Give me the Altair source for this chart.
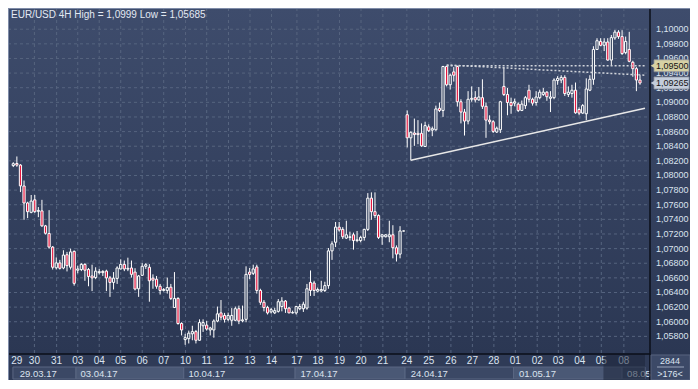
import altair as alt
import pandas as pd

# ---------------- data (EUR/USD 4H candles) ----------------
opens = [
    1.08135, 1.08164, 1.08142, 1.07856, 1.07624, 1.07496, 1.07667, 1.07509, 1.07516, 1.07311,
    1.07206, 1.07021, 1.06738, 1.06804, 1.06735, 1.06916, 1.06745, 1.06962, 1.06705, 1.06714,
    1.06784, 1.06714, 1.06626, 1.06604, 1.06672, 1.06672, 1.06692, 1.06600, 1.06538, 1.06593,
    1.06722, 1.06784, 1.06720, 1.06735, 1.06679, 1.06451, 1.06635, 1.06758, 1.06745, 1.06596,
    1.06582, 1.06485, 1.06428, 1.06428, 1.06472, 1.06195, 1.06319, 1.05976, 1.05756, 1.05769,
    1.05835, 1.05865, 1.05747, 1.05945, 1.05954, 1.05888, 1.05888, 1.06010, 1.06121, 1.06086,
    1.06033, 1.06020, 1.06020, 1.06178, 1.06013, 1.06033, 1.06679, 1.06662, 1.06749, 1.06428,
    1.06266, 1.06195, 1.06134, 1.06121, 1.06142, 1.06208, 1.06283, 1.06187, 1.06121, 1.06121,
    1.06178, 1.06178, 1.06187, 1.06538, 1.06530, 1.06419, 1.06422, 1.06428, 1.06494, 1.06969,
    1.07087, 1.07294, 1.07263, 1.07144, 1.07153, 1.07189, 1.07110, 1.07110, 1.07153, 1.07263,
    1.07690, 1.07505, 1.07452, 1.07162, 1.07162, 1.07162, 1.07189, 1.07012, 1.06925, 1.07241,
    1.08831, 1.08515, 1.08581, 1.08577, 1.08577, 1.08396, 1.08665, 1.08620, 1.08625, 1.08919,
    1.08889, 1.09490, 1.09240, 1.09416, 1.09490, 1.09008, 1.08867, 1.08744, 1.09042, 1.09064,
    1.09034, 1.09064, 1.08946, 1.08757, 1.08735, 1.08594, 1.08625, 1.09218, 1.09108, 1.08998,
    1.08989, 1.08976, 1.08889, 1.08955, 1.09166, 1.09042, 1.08998, 1.09064, 1.09108, 1.09139,
    1.09055, 1.09064, 1.09298, 1.09305, 1.09341, 1.09108, 1.09121, 1.09166, 1.08902, 1.08853,
    1.08844, 1.09166, 1.09315, 1.09723, 1.09833, 1.09780, 1.09825, 1.09578, 1.09881, 1.09960,
    1.09899, 1.09680, 1.09723, 1.09548, 1.09460, 1.09305,
]
highs = [
    1.08181, 1.08260, 1.08155, 1.07931, 1.07641, 1.07733, 1.07733, 1.07568, 1.07667, 1.07324,
    1.07526, 1.07035, 1.06880, 1.06846, 1.06978, 1.06955, 1.06999, 1.06975, 1.06767, 1.06801,
    1.06801, 1.06735, 1.06780, 1.06745, 1.06722, 1.06705, 1.06712, 1.06626, 1.06679, 1.06758,
    1.06854, 1.06837, 1.06876, 1.06837, 1.06732, 1.06639, 1.06801, 1.06801, 1.06788, 1.06648,
    1.06626, 1.06517, 1.06461, 1.06604, 1.06517, 1.06679, 1.06336, 1.05993, 1.05835, 1.05879,
    1.05945, 1.05888, 1.06033, 1.06033, 1.06010, 1.05931, 1.06033, 1.06208, 1.06297, 1.06121,
    1.06125, 1.06187, 1.06208, 1.06221, 1.06221, 1.06758, 1.06735, 1.06780, 1.06780, 1.06451,
    1.06297, 1.06218, 1.06191, 1.06191, 1.06310, 1.06336, 1.06297, 1.06204, 1.06152, 1.06218,
    1.06244, 1.06274, 1.06517, 1.06701, 1.06560, 1.06468, 1.06560, 1.06547, 1.07008, 1.07100,
    1.07364, 1.07364, 1.07294, 1.07381, 1.07232, 1.07219, 1.07241, 1.07176, 1.07272, 1.07759,
    1.07769, 1.07769, 1.07469, 1.07197, 1.07197, 1.07381, 1.07320, 1.07044, 1.07307, 1.07245,
    1.08889, 1.08603, 1.08778, 1.08757, 1.08712, 1.08735, 1.08699, 1.08669, 1.08955, 1.08998,
    1.09499, 1.09499, 1.09394, 1.09482, 1.09503, 1.09042, 1.08910, 1.09153, 1.09218, 1.09153,
    1.09209, 1.09315, 1.08998, 1.08823, 1.08757, 1.08669, 1.09021, 1.09482, 1.09196, 1.09064,
    1.09051, 1.08998, 1.09025, 1.09087, 1.09240, 1.09064, 1.09153, 1.09174, 1.09196, 1.09153,
    1.09153, 1.09328, 1.09358, 1.09371, 1.09371, 1.09218, 1.09240, 1.09271, 1.08932, 1.08976,
    1.09328, 1.09371, 1.09767, 1.09877, 1.09877, 1.09877, 1.09877, 1.09921, 1.09990, 1.09987,
    1.09987, 1.09899, 1.09964, 1.09569, 1.09482, 1.09371,
]
lows = [
    1.08115, 1.08119, 1.07773, 1.07394, 1.07417, 1.07483, 1.07489, 1.07430, 1.07298, 1.07193,
    1.06999, 1.06714, 1.06714, 1.06714, 1.06718, 1.06688, 1.06714, 1.06494, 1.06662, 1.06692,
    1.06560, 1.06485, 1.06419, 1.06582, 1.06648, 1.06626, 1.06419, 1.06340, 1.06441, 1.06517,
    1.06714, 1.06692, 1.06692, 1.06604, 1.06428, 1.06340, 1.06626, 1.06722, 1.06274, 1.06451,
    1.06451, 1.06372, 1.06415, 1.06385, 1.06297, 1.06187, 1.05960, 1.05813, 1.05685, 1.05703,
    1.05747, 1.05703, 1.05743, 1.05861, 1.05879, 1.05813, 1.05782, 1.05993, 1.06020, 1.05989,
    1.06007, 1.05945, 1.06007, 1.05967, 1.05993, 1.05993, 1.06582, 1.06639, 1.06385, 1.06231,
    1.06142, 1.06099, 1.06112, 1.06105, 1.06125, 1.06142, 1.06121, 1.06118, 1.06112, 1.06099,
    1.06158, 1.06134, 1.06165, 1.06353, 1.06353, 1.06402, 1.06406, 1.06406, 1.06451, 1.06846,
    1.07021, 1.07232, 1.07131, 1.07131, 1.07110, 1.06986, 1.07087, 1.07087, 1.07110, 1.07241,
    1.07394, 1.07417, 1.07131, 1.07052, 1.07153, 1.07087, 1.06867, 1.06824, 1.06867, 1.07237,
    1.08383, 1.08208, 1.08405, 1.08428, 1.08392, 1.08392, 1.08594, 1.08537, 1.08612, 1.08867,
    1.08801, 1.09218, 1.09174, 1.09284, 1.08942, 1.08712, 1.08546, 1.08699, 1.09008, 1.08998,
    1.09021, 1.08910, 1.08515, 1.08699, 1.08581, 1.08581, 1.08581, 1.09087, 1.08823, 1.08844,
    1.08946, 1.08867, 1.08880, 1.08910, 1.08998, 1.08955, 1.08955, 1.09042, 1.09087, 1.09021,
    1.08867, 1.09042, 1.09240, 1.09262, 1.09087, 1.09073, 1.09064, 1.08844, 1.08823, 1.08844,
    1.08757, 1.09153, 1.09240, 1.09717, 1.09767, 1.09701, 1.09569, 1.09503, 1.09855, 1.09868,
    1.09648, 1.09657, 1.09548, 1.09350, 1.09153, 1.09240,
]
closes = [
    1.08161, 1.08142, 1.07858, 1.07624, 1.07505, 1.07650, 1.07505, 1.07522, 1.07311, 1.07210,
    1.07021, 1.06745, 1.06804, 1.06731, 1.06912, 1.06767, 1.06955, 1.06525, 1.06722, 1.06784,
    1.06705, 1.06619, 1.06600, 1.06692, 1.06685, 1.06688, 1.06600, 1.06538, 1.06596, 1.06735,
    1.06784, 1.06722, 1.06730, 1.06648, 1.06448, 1.06626, 1.06758, 1.06780, 1.06560, 1.06569,
    1.06485, 1.06428, 1.06441, 1.06468, 1.06319, 1.06319, 1.05976, 1.05888, 1.05783, 1.05844,
    1.05865, 1.05747, 1.05989, 1.05989, 1.05901, 1.05914, 1.06010, 1.06108, 1.06063, 1.06033,
    1.06086, 1.06086, 1.06178, 1.06010, 1.06026, 1.06648, 1.06648, 1.06722, 1.06428, 1.06266,
    1.06195, 1.06121, 1.06165, 1.06152, 1.06274, 1.06283, 1.06178, 1.06121, 1.06125, 1.06208,
    1.06208, 1.06240, 1.06451, 1.06428, 1.06428, 1.06441, 1.06441, 1.06494, 1.06969, 1.07065,
    1.07294, 1.07255, 1.07162, 1.07189, 1.07162, 1.07110, 1.07120, 1.07153, 1.07263, 1.07690,
    1.07505, 1.07452, 1.07153, 1.07189, 1.07189, 1.07189, 1.07012, 1.06925, 1.07241, 1.07241,
    1.08515, 1.08590, 1.08559, 1.08559, 1.08405, 1.08682, 1.08612, 1.08639, 1.08910, 1.08889,
    1.09490, 1.09240, 1.09371, 1.09371, 1.09008, 1.08867, 1.08744, 1.09042, 1.09055, 1.09034,
    1.09073, 1.08946, 1.08757, 1.08735, 1.08603, 1.08646, 1.09008, 1.09108, 1.08998, 1.08955,
    1.09008, 1.08889, 1.08976, 1.09064, 1.09042, 1.08989, 1.09073, 1.09139, 1.09139, 1.09077,
    1.09073, 1.09305, 1.09328, 1.09341, 1.09121, 1.09139, 1.09166, 1.08857, 1.08853, 1.08955,
    1.09183, 1.09315, 1.09723, 1.09842, 1.09780, 1.09825, 1.09578, 1.09885, 1.09960, 1.09899,
    1.09667, 1.09833, 1.09561, 1.09460, 1.09305, 1.09265,
]

day_labels = ["29", "30", "31", "03", "04", "05", "06", "07", "10", "11", "12", "13", "14",
              "17", "18", "19", "20", "21", "24", "25", "26", "27", "28", "01", "02", "03",
              "04", "05", "08"]
day_pos = [1.0, 5.9, 12.1, 18.0, 24.0, 30.0, 36.0, 42.0, 48.1, 54.0, 60.1, 66.1, 72.1,
           79.2, 85.1, 91.1, 97.1, 103.2, 109.9, 116.0, 122.2, 128.2, 134.2, 140.2, 146.3,
           152.2, 158.2, 164.2, 170.5]
grid_pos = [5.9, 12.1, 18.0, 24.0, 30.0, 36.0, 42.0, 48.1, 54.0, 60.1, 66.1, 72.1,
            79.2, 85.1, 91.1, 97.1, 103.2, 109.9, 116.0, 122.2, 128.2, 134.2, 140.2, 146.3,
            152.2, 158.2, 164.2, 170.5]

week_labels = ["29.03.17", "03.04.17", "10.04.17", "17.04.17", "24.04.17", "01.05.17", "08.05.17"]
week_from = [-0.1, 17.5, 47.6, 78.7, 109.4, 139.7, 170.0]
week_to = [17.5, 47.6, 78.7, 109.4, 139.7, 170.0, 176.4]
week_text_at = [1.8, 18.75, 48.9, 80.2, 111.0, 141.2, 171.4]

price_ticks = [1.058, 1.060, 1.062, 1.064, 1.066, 1.068, 1.070, 1.072, 1.074, 1.076, 1.078,
               1.080, 1.082, 1.084, 1.086, 1.088, 1.090, 1.092, 1.094, 1.096, 1.098, 1.100]

tag_prices = [1.09500, 1.09265]
tag_labels = ["1,09500", "1,09265"]

trend_i = [111, 176.4]
trend_p = [1.08208, 1.08919]
dot_a_i = [121, 176.4]
dot_a_p = [1.09500, 1.09500]
dot_b_i = [121, 176.4]
dot_b_p = [1.09512, 1.09371]

title_text = "EUR/USD 4H High = 1,0999 Low = 1,05685"
info_top = "2844"
info_bottom = ">176<"
shade_from, shade_to = 164.8, 176.4

# ---------------- layout / style ----------------
W, H, RP, BP = 642, 346, 40, 26
FONT = "Liberation Sans"
RED = "#e5173f"
HOLLOW = "#35435f"
TXT = "#dbe3ef"

xs = alt.Scale(domain=[-0.08, 176.4], nice=False, zero=False)
ys = alt.Scale(domain=[1.05559, 1.10290], nice=False, zero=False)


def X(f):
    return alt.X(f, scale=xs, axis=None)


def Y(f):
    return alt.Y(f, scale=ys, axis=None)


candles = pd.DataFrame({"i": list(range(len(opens))), "o": opens, "h": highs, "l": lows, "c": closes})
days = pd.DataFrame({"p": day_pos, "t": day_labels})
grids = pd.DataFrame({"p": grid_pos})
weeks = pd.DataFrame({"n": list(range(len(week_labels))), "a": week_from, "b": week_to,
                      "s": week_text_at, "t": week_labels})
ticks = pd.DataFrame({"v": price_ticks})
tags = pd.DataFrame({"p": tag_prices, "t": tag_labels})
lines = pd.DataFrame({
    "i": trend_i + dot_a_i + dot_b_i,
    "p": trend_p + dot_a_p + dot_b_p,
    "g": ["trend"] * 2 + ["a"] * 2 + ["b"] * 2,
})
one = pd.DataFrame({"k": [0]})

bg = alt.Chart(one).mark_rect(
    fill={"gradient": "linear", "x1": 0, "y1": 0, "x2": 0, "y2": 1,
          "stops": [{"offset": 0, "color": "#3e4c6c"}, {"offset": 1, "color": "#2b3753"}]}
).encode(x=alt.value(0), x2=alt.value(W + RP), y=alt.value(0), y2=alt.value(H))

wk_box = alt.Chart(weeks).mark_rect(stroke="#5a6783", strokeWidth=1).encode(
    x=X("a:Q"), x2="b:Q", y=alt.value(H + 13), y2=alt.value(H + BP - 1),
    fill=alt.condition("datum.n % 2 == 1", alt.value("#4a5875"), alt.value("#3b4865")),
)

hgrid = alt.Chart(ticks).mark_rule(color="#56647f", strokeDash=[3, 3], strokeWidth=1).encode(
    y=Y("v:Q"), x=alt.value(0), x2=alt.value(W))
vgrid = alt.Chart(grids).mark_rule(color="#56647f", strokeDash=[3, 3], strokeWidth=1).encode(
    x=X("p:Q"), y=alt.value(0), y2=alt.value(H))

wicks = alt.Chart(candles).mark_rule(color="#ffffff", strokeWidth=1).encode(
    x=X("i:Q"), y=Y("l:Q"), y2="h:Q")
bodies = alt.Chart(candles).mark_bar(size=2.2, stroke="#ffffff", strokeWidth=1, orient="vertical").encode(
    x=X("i:Q"), y=Y("o:Q"), y2="c:Q",
    fill=alt.condition("datum.c < datum.o", alt.value(RED), alt.value(HOLLOW)),
)

trend = alt.Chart(lines).transform_filter("datum.g == 'trend'").mark_line(
    color="#e8e8e8", strokeWidth=1.5).encode(x=X("i:Q"), y=Y("p:Q"))
dots = alt.Chart(lines).transform_filter("datum.g != 'trend'").mark_line(
    color="#d0d3da", strokeWidth=1.5, strokeDash=[2, 2]).encode(x=X("i:Q"), y=Y("p:Q"), detail="g:N")

day_txt = alt.Chart(days).mark_text(font=FONT, fontSize=10, color=TXT, align="center", baseline="middle").encode(
    x=X("p:Q"), y=alt.value(H + 7), text="t:N")
wk_txt = alt.Chart(weeks).mark_text(font=FONT, fontSize=9.5, color=TXT, align="left", baseline="middle").encode(
    x=X("s:Q"), y=alt.value(H + 19.5), text="t:N")

shade = alt.Chart(one).mark_rect(fill="#1d273b", opacity=0.55).encode(
    x=alt.X(datum=shade_from, scale=xs, axis=None), x2=alt.X2(datum=shade_to),
    y=alt.value(H), y2=alt.value(H + BP))

frame = alt.Chart(one).mark_rule(color="#0b0f18", strokeWidth=1.5)
vline = frame.encode(x=alt.value(W), y=alt.value(0), y2=alt.value(H + BP))
hline = frame.encode(y=alt.value(H), x=alt.value(0), x2=alt.value(W))
edge = alt.Chart(one).mark_rule(color="#7f8ca8", strokeWidth=1)
ledge = edge.encode(x=alt.value(0.5), y=alt.value(0), y2=alt.value(H + BP))
tedge = edge.encode(y=alt.value(0.5), x=alt.value(0), x2=alt.value(W + RP))

plabels = alt.Chart(ticks).transform_calculate(
    t="replace(format(datum.v, '.5f'), '.', ',')"
).mark_text(font=FONT, fontSize=9, color=TXT, align="left", baseline="middle").encode(
    x=alt.value(W + 6), y=Y("v:Q"), text="t:N")

info = alt.Chart(one).mark_rect(fill="#3c4967", stroke="#56637e").encode(
    x=alt.value(W + 1), x2=alt.value(W + RP), y=alt.value(H + 1), y2=alt.value(H + BP))
info_t1 = alt.Chart(one).mark_text(font=FONT, fontSize=9, color=TXT, align="center", baseline="middle").encode(
    x=alt.value(W + RP / 2), y=alt.value(H + 7), text=alt.value(info_top))
info_line = alt.Chart(one).mark_rule(color="#9aa6bd", strokeWidth=1).encode(
    x=alt.value(W + 7), x2=alt.value(W + RP - 6), y=alt.value(H + 13))
info_t2 = alt.Chart(one).mark_text(font=FONT, fontSize=9, color=TXT, align="center", baseline="middle").encode(
    x=alt.value(W + RP / 2), y=alt.value(H + 19.5), text=alt.value(info_bottom))

tag_fill = alt.Fill("t:N", scale=alt.Scale(domain=tag_labels, range=["#d7d1a5", "#c4cddc"]), legend=None)
tag_rect = alt.Chart(tags).mark_rect(yOffset=-6, y2Offset=6, stroke="#8a8f9c", strokeWidth=0.8).encode(
    x=alt.value(W + 4), x2=alt.value(W + RP - 1), y=Y("p:Q"), y2="p:Q", fill=tag_fill)
tag_arrow = alt.Chart(tags).mark_point(shape="triangle-left", filled=True, size=30, opacity=1).encode(
    x=alt.value(W + 3), y=Y("p:Q"), fill=tag_fill)
tag_txt = alt.Chart(tags).mark_text(font=FONT, fontSize=9, color="#141414", align="left", baseline="middle").encode(
    x=alt.value(W + 6), y=Y("p:Q"), text="t:N")

title = alt.Chart(one).mark_text(font=FONT, fontSize=10, color="#e3e9f3", align="left", baseline="middle").encode(
    x=alt.value(3), y=alt.value(6.5), text=alt.value(title_text))

chart = alt.layer(
    bg, wk_box, hgrid, vgrid, wicks, bodies, trend, dots,
    day_txt, wk_txt, shade, vline, hline, ledge, tedge, plabels,
    info, info_t1, info_line, info_t2, tag_rect, tag_arrow, tag_txt, title,
).properties(
    width=W, height=H,
    autosize=alt.AutoSizeParams(type="none"),
    padding={"left": 0, "top": 0, "right": RP, "bottom": BP},
    background="#2f3b57",
).configure_view(stroke=None)

chart.save("out.html", embed_options={"renderer": "svg", "actions": False})
